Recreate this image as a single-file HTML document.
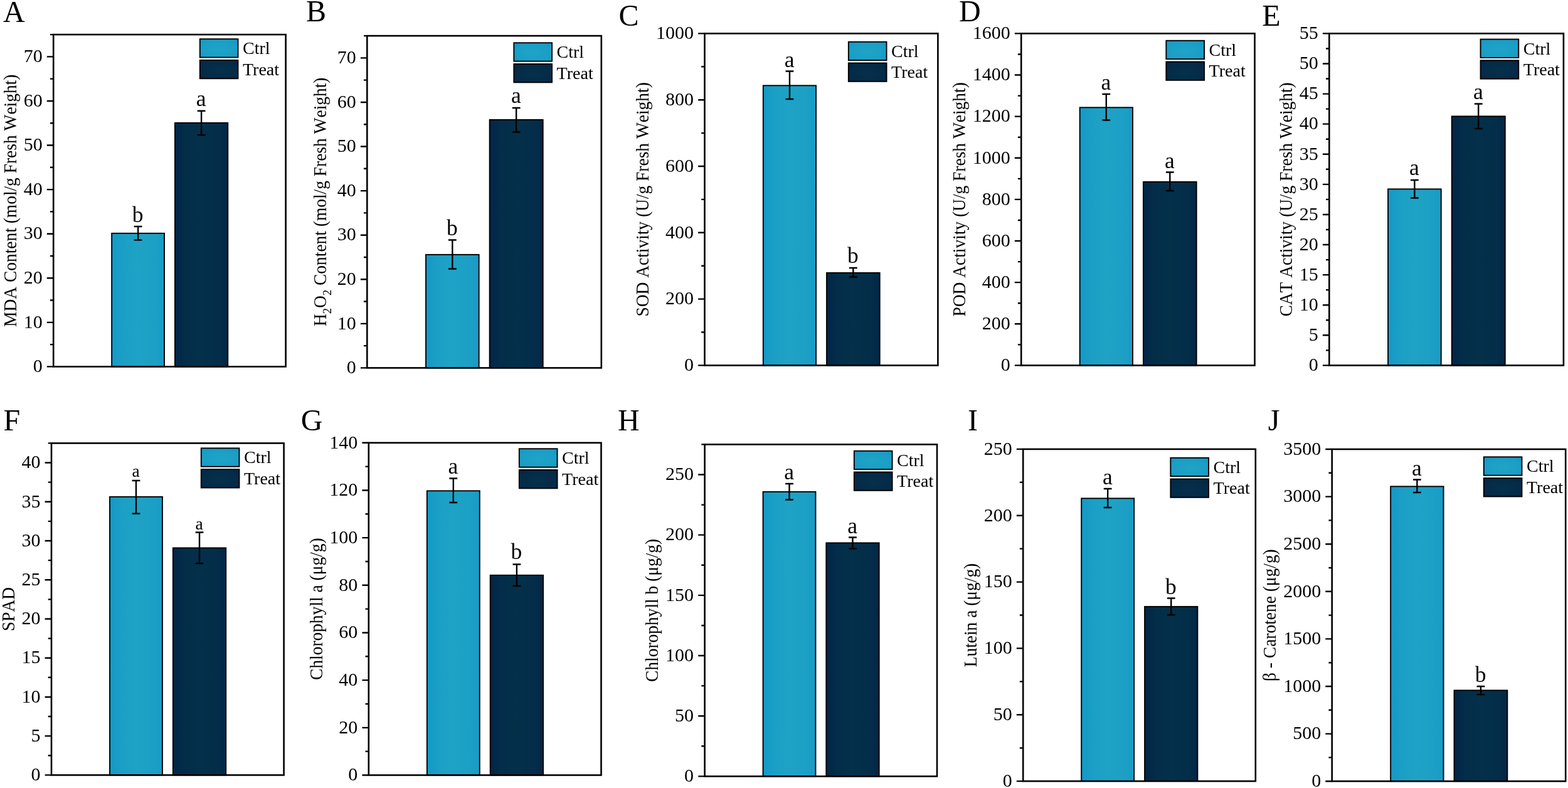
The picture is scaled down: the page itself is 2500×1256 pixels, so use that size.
<!DOCTYPE html>
<html lang="en"><head><meta charset="utf-8"><title>Oxidative stress markers and pigment contents: Ctrl vs Treat</title>
<style>html,body{margin:0;padding:0;background:#fff}body{width:2500px;height:1256px;overflow:hidden}svg{display:block}text{font-family:"Liberation Serif", "DejaVu Serif", serif;fill:#000;font-kerning:none}.tk{font-size:30px;text-anchor:end}.lg{font-size:28px;font-kerning:normal}.yl{font-size:27.45px;text-anchor:middle;letter-spacing:0px}.lt{font-size:48px}.sg{font-size:35.5px;text-anchor:middle}.ax{stroke:#000;stroke-width:2.6;fill:none}.tc{stroke:#000;stroke-width:2.4;fill:none}.bar{stroke:#000;stroke-width:1.9}.eb{stroke:#000;stroke-width:2.4;fill:none}</style></head><body>
<svg width="2500" height="1256" viewBox="0 0 2500 1256">
<defs><linearGradient id="gc" x1="0" y1="0" x2="1" y2="0"><stop offset="0" stop-color="#1399c8"/><stop offset="0.22" stop-color="#1b9fc5"/><stop offset="0.5" stop-color="#1ea2c5"/><stop offset="0.85" stop-color="#1c9fc5"/><stop offset="1" stop-color="#179bc7"/></linearGradient><linearGradient id="gt" x1="0" y1="0" x2="1" y2="0"><stop offset="0" stop-color="#022548"/><stop offset="0.2" stop-color="#032d49"/><stop offset="0.5" stop-color="#04304a"/><stop offset="0.85" stop-color="#032d49"/><stop offset="1" stop-color="#022747"/></linearGradient><radialGradient id="lc" cx="0.5" cy="0.55" r="0.8"><stop offset="0" stop-color="#1fa3c6"/><stop offset="0.6" stop-color="#1a9ec6"/><stop offset="1" stop-color="#1294c3"/></radialGradient><radialGradient id="lt" cx="0.5" cy="0.55" r="0.8"><stop offset="0" stop-color="#05304b"/><stop offset="0.6" stop-color="#042b48"/><stop offset="1" stop-color="#022144"/></radialGradient></defs>
<rect width="2500" height="1256" fill="#fff"/>
<g id="panel-A">
<rect class="bar" x="178.16" y="371.85" width="83.88" height="212.55" fill="url(#gc)"/>
<rect class="bar" x="278.94" y="195.85" width="84.29" height="388.55" fill="url(#gt)"/>
<path class="eb" d="M220.1 361V382.6M213.7 361H226.5M213.7 382.6H226.5"/>
<path class="eb" d="M321.09 176.7V215.2M314.69 176.7H327.49M314.69 215.2H327.49"/>
<rect class="ax" x="85.2" y="55.1" width="370.4" height="529.3"/>
<path class="tc" d="M85.2 584.4H74.8M85.2 549.11H79.9M85.2 513.83H74.8M85.2 478.54H79.9M85.2 443.25H74.8M85.2 407.97H79.9M85.2 372.68H74.8M85.2 337.39H79.9M85.2 302.11H74.8M85.2 266.82H79.9M85.2 231.53H74.8M85.2 196.25H79.9M85.2 160.96H74.8M85.2 125.67H79.9M85.2 90.39H74.8M85.2 55.1H79.9"/>
<text class="tk" x="67.7" y="593.2">0</text>
<text class="tk" x="67.7" y="522.63">10</text>
<text class="tk" x="67.7" y="452.05">20</text>
<text class="tk" x="67.7" y="381.48">30</text>
<text class="tk" x="67.7" y="310.91">40</text>
<text class="tk" x="67.7" y="240.33">50</text>
<text class="tk" x="67.7" y="169.76">60</text>
<text class="tk" x="67.7" y="99.19">70</text>
<text class="sg" x="219.7" y="353.5">b</text>
<text class="sg" x="320.69" y="168.7">a</text>
<rect class="bar" x="318.75" y="62.15" width="60.7" height="29.4" fill="url(#lc)"/>
<text class="lg" x="387" y="86.1">Ctrl</text>
<rect class="bar" x="318.75" y="95.85" width="60.7" height="29.4" fill="url(#lt)"/>
<text class="lg" x="387" y="119.8">Treat</text>
<text class="lt" x="5" y="35">A</text>
<text class="yl" transform="translate(25.9 319.75) rotate(-90) scale(1 1.05)">MDA Content (mol/g Fresh Weight)</text>
</g>
<g id="panel-B">
<rect class="bar" x="679.03" y="405.85" width="84.6" height="180.55" fill="url(#gc)"/>
<rect class="bar" x="780.66" y="190.85" width="85.01" height="395.55" fill="url(#gt)"/>
<path class="eb" d="M721.33 382.5V428.5M714.93 382.5H727.73M714.93 428.5H727.73"/>
<path class="eb" d="M823.16 172V210.5M816.76 172H829.56M816.76 210.5H829.56"/>
<rect class="ax" x="585.3" y="57.1" width="373.5" height="529.3"/>
<path class="tc" d="M585.3 586.4H574.9M585.3 551.11H580M585.3 515.83H574.9M585.3 480.54H580M585.3 445.25H574.9M585.3 409.97H580M585.3 374.68H574.9M585.3 339.39H580M585.3 304.11H574.9M585.3 268.82H580M585.3 233.53H574.9M585.3 198.25H580M585.3 162.96H574.9M585.3 127.67H580M585.3 92.39H574.9M585.3 57.1H580"/>
<text class="tk" x="567.8" y="595.2">0</text>
<text class="tk" x="567.8" y="524.63">10</text>
<text class="tk" x="567.8" y="454.05">20</text>
<text class="tk" x="567.8" y="383.48">30</text>
<text class="tk" x="567.8" y="312.91">40</text>
<text class="tk" x="567.8" y="242.33">50</text>
<text class="tk" x="567.8" y="171.76">60</text>
<text class="tk" x="567.8" y="101.19">70</text>
<text class="sg" x="720.93" y="374.7">b</text>
<text class="sg" x="822.76" y="164.3">a</text>
<rect class="bar" x="819.35" y="68.25" width="60.7" height="29.4" fill="url(#lc)"/>
<text class="lg" x="887.6" y="92.2">Ctrl</text>
<rect class="bar" x="819.35" y="101.95" width="60.7" height="29.4" fill="url(#lt)"/>
<text class="lg" x="887.6" y="125.9">Treat</text>
<text class="lt" x="488" y="34.4">B</text>
<text class="yl" transform="translate(520.2 321.75) rotate(-90) scale(1 1.05)">H<tspan style="font-size:18.5px" dy="7.6">2</tspan><tspan dy="-7.6">O</tspan><tspan style="font-size:18.5px" dy="7.6">2</tspan><tspan dy="-7.6"> Content (mol/g Fresh Weight)</tspan></text>
</g>
<g id="panel-C">
<rect class="bar" x="1216.83" y="136.35" width="84.23" height="446.05" fill="url(#gc)"/>
<rect class="bar" x="1318.02" y="434.85" width="84.64" height="147.55" fill="url(#gt)"/>
<path class="eb" d="M1258.95 113.5V158M1252.55 113.5H1265.35M1252.55 158H1265.35"/>
<path class="eb" d="M1360.34 427V441.5M1353.94 427H1366.74M1353.94 441.5H1366.74"/>
<rect class="ax" x="1123.5" y="53.4" width="371.9" height="529"/>
<path class="tc" d="M1123.5 582.4H1113.1M1123.5 529.5H1118.2M1123.5 476.6H1113.1M1123.5 423.7H1118.2M1123.5 370.8H1113.1M1123.5 317.9H1118.2M1123.5 265H1113.1M1123.5 212.1H1118.2M1123.5 159.2H1113.1M1123.5 106.3H1118.2M1123.5 53.4H1113.1"/>
<text class="tk" x="1106" y="591.2">0</text>
<text class="tk" x="1106" y="485.4">200</text>
<text class="tk" x="1106" y="379.6">400</text>
<text class="tk" x="1106" y="273.8">600</text>
<text class="tk" x="1106" y="168">800</text>
<text class="tk" x="1106" y="62.2">1000</text>
<text class="sg" x="1258.55" y="107.3">a</text>
<text class="sg" x="1359.94" y="418.7">b</text>
<rect class="bar" x="1352.85" y="66.75" width="60.7" height="29.4" fill="url(#lc)"/>
<text class="lg" x="1421.1" y="90.7">Ctrl</text>
<rect class="bar" x="1352.85" y="100.45" width="60.7" height="29.4" fill="url(#lt)"/>
<text class="lg" x="1421.1" y="124.4">Treat</text>
<text class="lt" x="986.5" y="40.6">C</text>
<text class="yl" transform="translate(1034.2 317.9) rotate(-90) scale(1 1.05)">SOD Activity (U/g Fresh Weight)</text>
</g>
<g id="panel-D">
<rect class="bar" x="1721.63" y="171.35" width="84.32" height="411.05" fill="url(#gc)"/>
<rect class="bar" x="1822.93" y="289.85" width="84.73" height="292.55" fill="url(#gt)"/>
<path class="eb" d="M1763.79 150V191.5M1757.39 150H1770.19M1757.39 191.5H1770.19"/>
<path class="eb" d="M1865.3 274.5V304M1858.9 274.5H1871.7M1858.9 304H1871.7"/>
<rect class="ax" x="1628.2" y="53.4" width="372.3" height="529"/>
<path class="tc" d="M1628.2 582.4H1617.8M1628.2 549.34H1622.9M1628.2 516.27H1617.8M1628.2 483.21H1622.9M1628.2 450.15H1617.8M1628.2 417.09H1622.9M1628.2 384.02H1617.8M1628.2 350.96H1622.9M1628.2 317.9H1617.8M1628.2 284.84H1622.9M1628.2 251.77H1617.8M1628.2 218.71H1622.9M1628.2 185.65H1617.8M1628.2 152.59H1622.9M1628.2 119.52H1617.8M1628.2 86.46H1622.9M1628.2 53.4H1617.8"/>
<text class="tk" x="1610.7" y="591.2">0</text>
<text class="tk" x="1610.7" y="525.07">200</text>
<text class="tk" x="1610.7" y="458.95">400</text>
<text class="tk" x="1610.7" y="392.82">600</text>
<text class="tk" x="1610.7" y="326.7">800</text>
<text class="tk" x="1610.7" y="260.57">1000</text>
<text class="tk" x="1610.7" y="194.45">1200</text>
<text class="tk" x="1610.7" y="128.32">1400</text>
<text class="tk" x="1610.7" y="62.2">1600</text>
<text class="sg" x="1763.39" y="142.7">a</text>
<text class="sg" x="1864.9" y="267.7">a</text>
<rect class="bar" x="1859.35" y="64.75" width="60.7" height="29.4" fill="url(#lc)"/>
<text class="lg" x="1927.6" y="88.7">Ctrl</text>
<rect class="bar" x="1859.35" y="98.45" width="60.7" height="29.4" fill="url(#lt)"/>
<text class="lg" x="1927.6" y="122.4">Treat</text>
<text class="lt" x="1529" y="34.4">D</text>
<text class="yl" transform="translate(1538.9 317.9) rotate(-90) scale(1 1.05)">POD Activity (U/g Fresh Weight)</text>
</g>
<g id="panel-E">
<rect class="bar" x="2213.05" y="301.35" width="84.63" height="281.05" fill="url(#gc)"/>
<rect class="bar" x="2314.71" y="185.35" width="85.04" height="397.05" fill="url(#gt)"/>
<path class="eb" d="M2255.37 287V315.5M2248.97 287H2261.77M2248.97 315.5H2261.77"/>
<path class="eb" d="M2357.23 165.5V205M2350.83 165.5H2363.63M2350.83 205H2363.63"/>
<rect class="ax" x="2119.3" y="53.4" width="373.6" height="529"/>
<path class="tc" d="M2119.3 582.4H2108.9M2119.3 558.35H2114M2119.3 534.31H2108.9M2119.3 510.26H2114M2119.3 486.22H2108.9M2119.3 462.17H2114M2119.3 438.13H2108.9M2119.3 414.08H2114M2119.3 390.04H2108.9M2119.3 365.99H2114M2119.3 341.95H2108.9M2119.3 317.9H2114M2119.3 293.85H2108.9M2119.3 269.81H2114M2119.3 245.76H2108.9M2119.3 221.72H2114M2119.3 197.67H2108.9M2119.3 173.63H2114M2119.3 149.58H2108.9M2119.3 125.54H2114M2119.3 101.49H2108.9M2119.3 77.45H2114M2119.3 53.4H2108.9"/>
<text class="tk" x="2101.8" y="591.2">0</text>
<text class="tk" x="2101.8" y="543.11">5</text>
<text class="tk" x="2101.8" y="495.02">10</text>
<text class="tk" x="2101.8" y="446.93">15</text>
<text class="tk" x="2101.8" y="398.84">20</text>
<text class="tk" x="2101.8" y="350.75">25</text>
<text class="tk" x="2101.8" y="302.65">30</text>
<text class="tk" x="2101.8" y="254.56">35</text>
<text class="tk" x="2101.8" y="206.47">40</text>
<text class="tk" x="2101.8" y="158.38">45</text>
<text class="tk" x="2101.8" y="110.29">50</text>
<text class="tk" x="2101.8" y="62.2">55</text>
<text class="sg" x="2254.97" y="279.3">a</text>
<text class="sg" x="2356.83" y="157.7">a</text>
<rect class="bar" x="2360.55" y="62.55" width="60.7" height="29.4" fill="url(#lc)"/>
<text class="lg" x="2428.8" y="86.5">Ctrl</text>
<rect class="bar" x="2360.55" y="96.25" width="60.7" height="29.4" fill="url(#lt)"/>
<text class="lg" x="2428.8" y="120.2">Treat</text>
<text class="lt" x="2012.2" y="40.6">E</text>
<text class="yl" transform="translate(2060 317.9) rotate(-90) scale(1 1.05)">CAT Activity (U/g Fresh Weight)</text>
</g>
<g id="panel-F">
<rect class="bar" x="175.01" y="791.85" width="83.93" height="443.55" fill="url(#gc)"/>
<rect class="bar" x="275.85" y="873.35" width="84.34" height="362.05" fill="url(#gt)"/>
<path class="eb" d="M216.97 766V818.6M210.57 766H223.37M210.57 818.6H223.37"/>
<path class="eb" d="M318.02 848.5V898M311.62 848.5H324.42M311.62 898H324.42"/>
<rect class="ax" x="82" y="706.4" width="370.6" height="529"/>
<path class="tc" d="M82 1235.4H71.6M82 1204.28H76.7M82 1173.16H71.6M82 1142.05H76.7M82 1110.93H71.6M82 1079.81H76.7M82 1048.69H71.6M82 1017.58H76.7M82 986.46H71.6M82 955.34H76.7M82 924.22H71.6M82 893.11H76.7M82 861.99H71.6M82 830.87H76.7M82 799.75H71.6M82 768.64H76.7M82 737.52H71.6M82 706.4H76.7"/>
<text class="tk" x="64.5" y="1244.2">0</text>
<text class="tk" x="64.5" y="1181.96">5</text>
<text class="tk" x="64.5" y="1119.73">10</text>
<text class="tk" x="64.5" y="1057.49">15</text>
<text class="tk" x="64.5" y="995.26">20</text>
<text class="tk" x="64.5" y="933.02">25</text>
<text class="tk" x="64.5" y="870.79">30</text>
<text class="tk" x="64.5" y="808.55">35</text>
<text class="tk" x="64.5" y="746.32">40</text>
<text class="sg" style="font-size:27.5px" x="216.57" y="760">a</text>
<text class="sg" style="font-size:27.5px" x="317.62" y="843.7">a</text>
<rect class="bar" x="320.75" y="714.35" width="60.7" height="29.4" fill="url(#lc)"/>
<text class="lg" x="389" y="738.3">Ctrl</text>
<rect class="bar" x="320.75" y="748.05" width="60.7" height="29.4" fill="url(#lt)"/>
<text class="lg" x="389" y="772">Treat</text>
<text class="lt" x="5.4" y="686.4">F</text>
<text class="yl" transform="translate(22.7 970.9) rotate(-90) scale(1 1.05)">SPAD</text>
</g>
<g id="panel-G">
<rect class="bar" x="680.83" y="782.35" width="83.95" height="453.15" fill="url(#gc)"/>
<rect class="bar" x="781.7" y="916.85" width="84.36" height="318.65" fill="url(#gt)"/>
<path class="eb" d="M722.81 762.5V801M716.41 762.5H729.21M716.41 801H729.21"/>
<path class="eb" d="M823.88 899.5V934M817.48 899.5H830.28M817.48 934H830.28"/>
<rect class="ax" x="587.8" y="705.8" width="370.7" height="529.7"/>
<path class="tc" d="M587.8 1235.5H577.4M587.8 1197.66H582.5M587.8 1159.83H577.4M587.8 1121.99H582.5M587.8 1084.16H577.4M587.8 1046.32H582.5M587.8 1008.49H577.4M587.8 970.65H582.5M587.8 932.81H577.4M587.8 894.98H582.5M587.8 857.14H577.4M587.8 819.31H582.5M587.8 781.47H577.4M587.8 743.64H582.5M587.8 705.8H577.4"/>
<text class="tk" x="570.3" y="1244.3">0</text>
<text class="tk" x="570.3" y="1168.63">20</text>
<text class="tk" x="570.3" y="1092.96">40</text>
<text class="tk" x="570.3" y="1017.29">60</text>
<text class="tk" x="570.3" y="941.61">80</text>
<text class="tk" x="570.3" y="865.94">100</text>
<text class="tk" x="570.3" y="790.27">120</text>
<text class="tk" x="570.3" y="714.6">140</text>
<text class="sg" x="722.41" y="754.7">a</text>
<text class="sg" x="823.48" y="891.3">b</text>
<rect class="bar" x="827.85" y="715.25" width="60.7" height="29.4" fill="url(#lc)"/>
<text class="lg" x="896.1" y="739.2">Ctrl</text>
<rect class="bar" x="827.85" y="748.95" width="60.7" height="29.4" fill="url(#lt)"/>
<text class="lg" x="896.1" y="772.9">Treat</text>
<text class="lt" x="479.8" y="685.6">G</text>
<text class="yl" transform="translate(513.5 970.65) rotate(-90) scale(1 1.05)">Chlorophyll a (μg/g)</text>
</g>
<g id="panel-H">
<rect class="bar" x="1216.56" y="783.85" width="83.88" height="453.55" fill="url(#gc)"/>
<rect class="bar" x="1317.34" y="865.35" width="84.29" height="372.05" fill="url(#gt)"/>
<path class="eb" d="M1258.5 771V796.5M1252.1 771H1264.9M1252.1 796.5H1264.9"/>
<path class="eb" d="M1359.49 856.5V874.5M1353.09 856.5H1365.89M1353.09 874.5H1365.89"/>
<rect class="ax" x="1123.6" y="708.4" width="370.4" height="529"/>
<path class="tc" d="M1123.6 1237.4H1113.2M1123.6 1189.31H1118.3M1123.6 1141.22H1113.2M1123.6 1093.13H1118.3M1123.6 1045.04H1113.2M1123.6 996.95H1118.3M1123.6 948.85H1113.2M1123.6 900.76H1118.3M1123.6 852.67H1113.2M1123.6 804.58H1118.3M1123.6 756.49H1113.2M1123.6 708.4H1118.3"/>
<text class="tk" x="1106.1" y="1246.2">0</text>
<text class="tk" x="1106.1" y="1150.02">50</text>
<text class="tk" x="1106.1" y="1053.84">100</text>
<text class="tk" x="1106.1" y="957.65">150</text>
<text class="tk" x="1106.1" y="861.47">200</text>
<text class="tk" x="1106.1" y="765.29">250</text>
<text class="sg" x="1258.1" y="764.3">a</text>
<text class="sg" x="1359.09" y="849.7">a</text>
<rect class="bar" x="1361.85" y="718.75" width="60.7" height="29.4" fill="url(#lc)"/>
<text class="lg" x="1430.1" y="742.7">Ctrl</text>
<rect class="bar" x="1361.85" y="752.45" width="60.7" height="29.4" fill="url(#lt)"/>
<text class="lg" x="1430.1" y="776.4">Treat</text>
<text class="lt" x="985" y="685.8">H</text>
<text class="yl" transform="translate(1049.3 972.9) rotate(-90) scale(1 1.05)">Chlorophyll b (μg/g)</text>
</g>
<g id="panel-I">
<rect class="bar" x="1724.21" y="794.35" width="83.93" height="450.75" fill="url(#gc)"/>
<rect class="bar" x="1825.05" y="966.85" width="84.34" height="278.25" fill="url(#gt)"/>
<path class="eb" d="M1766.17 779V809M1759.77 779H1772.57M1759.77 809H1772.57"/>
<path class="eb" d="M1867.22 953.5V980M1860.82 953.5H1873.62M1860.82 980H1873.62"/>
<rect class="ax" x="1631.2" y="715.9" width="370.6" height="529.2"/>
<path class="tc" d="M1631.2 1245.1H1620.8M1631.2 1192.18H1625.9M1631.2 1139.26H1620.8M1631.2 1086.34H1625.9M1631.2 1033.42H1620.8M1631.2 980.5H1625.9M1631.2 927.58H1620.8M1631.2 874.66H1625.9M1631.2 821.74H1620.8M1631.2 768.82H1625.9M1631.2 715.9H1620.8"/>
<text class="tk" x="1613.7" y="1253.9">0</text>
<text class="tk" x="1613.7" y="1148.06">50</text>
<text class="tk" x="1613.7" y="1042.22">100</text>
<text class="tk" x="1613.7" y="936.38">150</text>
<text class="tk" x="1613.7" y="830.54">200</text>
<text class="tk" x="1613.7" y="724.7">250</text>
<text class="sg" x="1765.77" y="771.7">a</text>
<text class="sg" x="1866.82" y="946.7">b</text>
<rect class="bar" x="1866.35" y="729.75" width="60.7" height="29.4" fill="url(#lc)"/>
<text class="lg" x="1934.6" y="753.7">Ctrl</text>
<rect class="bar" x="1866.35" y="763.45" width="60.7" height="29.4" fill="url(#lt)"/>
<text class="lg" x="1934.6" y="787.4">Treat</text>
<text class="lt" x="1543" y="685.8">I</text>
<text class="yl" transform="translate(1556.9 980.5) rotate(-90) scale(1 1.05)">Lutein a (μg/g)</text>
</g>
<g id="panel-J">
<rect class="bar" x="2217.18" y="775.35" width="84.37" height="469.85" fill="url(#gc)"/>
<rect class="bar" x="2318.54" y="1100.35" width="84.78" height="144.85" fill="url(#gt)"/>
<path class="eb" d="M2259.36 764.5V785M2252.96 764.5H2265.76M2252.96 785H2265.76"/>
<path class="eb" d="M2360.93 1094V1107M2354.53 1094H2367.33M2354.53 1107H2367.33"/>
<rect class="ax" x="2123.7" y="716" width="372.5" height="529.2"/>
<path class="tc" d="M2123.7 1245.2H2113.3M2123.7 1207.4H2118.4M2123.7 1169.6H2113.3M2123.7 1131.8H2118.4M2123.7 1094H2113.3M2123.7 1056.2H2118.4M2123.7 1018.4H2113.3M2123.7 980.6H2118.4M2123.7 942.8H2113.3M2123.7 905H2118.4M2123.7 867.2H2113.3M2123.7 829.4H2118.4M2123.7 791.6H2113.3M2123.7 753.8H2118.4M2123.7 716H2113.3"/>
<text class="tk" x="2106.2" y="1254">0</text>
<text class="tk" x="2106.2" y="1178.4">500</text>
<text class="tk" x="2106.2" y="1102.8">1000</text>
<text class="tk" x="2106.2" y="1027.2">1500</text>
<text class="tk" x="2106.2" y="951.6">2000</text>
<text class="tk" x="2106.2" y="876">2500</text>
<text class="tk" x="2106.2" y="800.4">3000</text>
<text class="tk" x="2106.2" y="724.8">3500</text>
<text class="sg" x="2258.96" y="757.7">a</text>
<text class="sg" x="2360.53" y="1086.7">b</text>
<rect class="bar" x="2365.75" y="728.35" width="60.7" height="29.4" fill="url(#lc)"/>
<text class="lg" x="2434" y="752.3">Ctrl</text>
<rect class="bar" x="2365.75" y="762.05" width="60.7" height="29.4" fill="url(#lt)"/>
<text class="lg" x="2434" y="786">Treat</text>
<text class="lt" x="2021.8" y="685.6">J</text>
<text class="yl" transform="translate(2034.4 980.6) rotate(-90) scale(1 1.05)">β - Carotene (μg/g)</text>
</g>
</svg></body></html>
